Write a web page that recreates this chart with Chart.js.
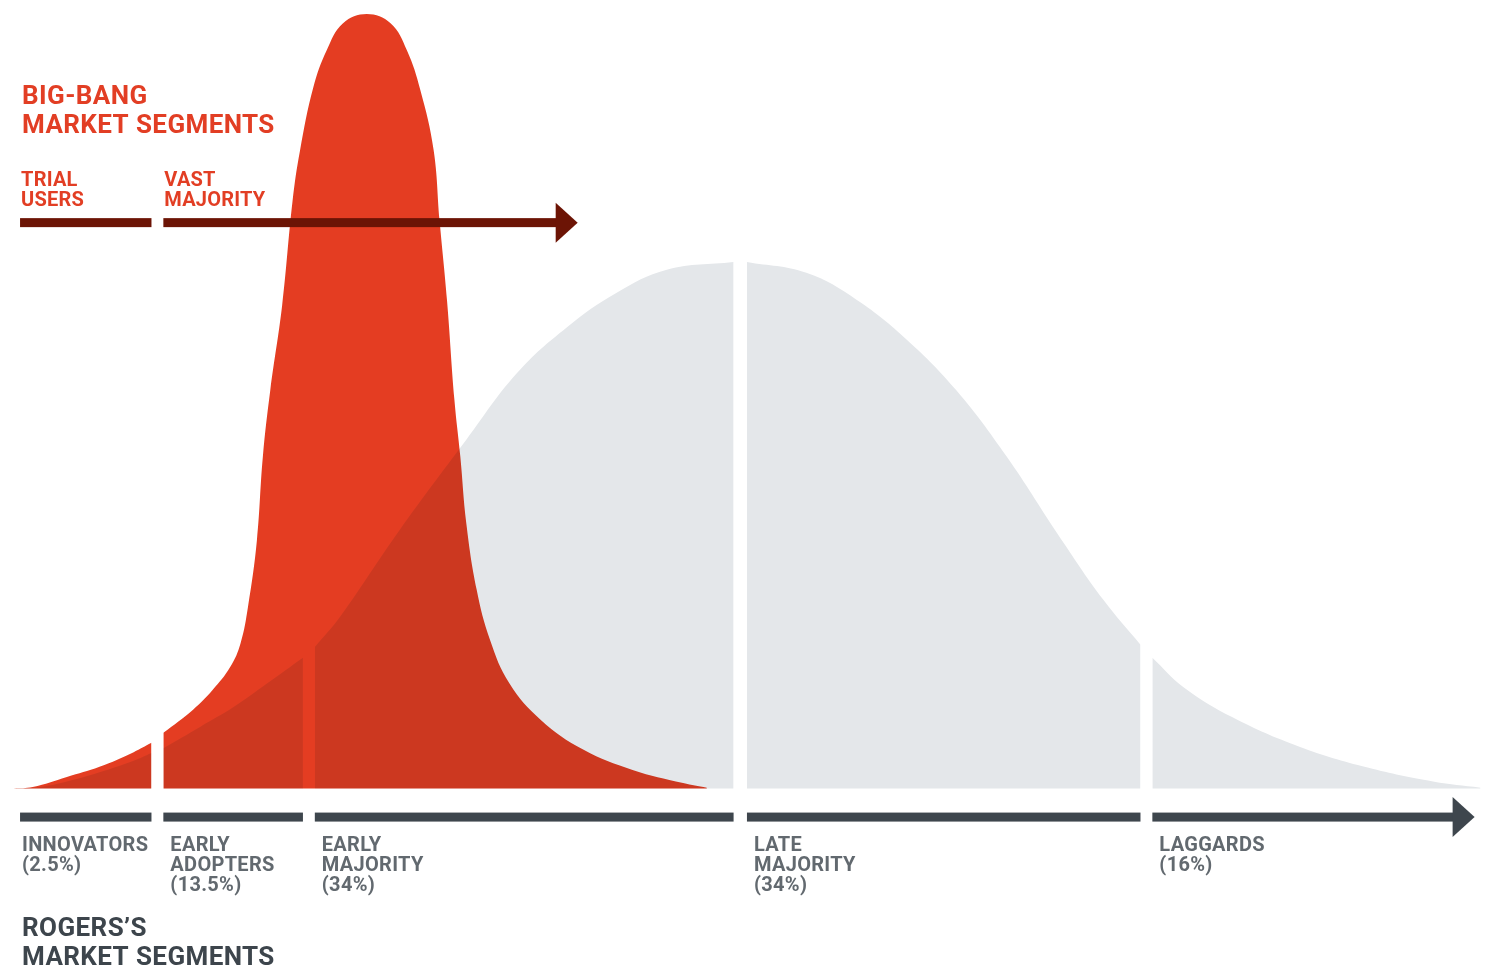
<!DOCTYPE html>
<html>
<head>
<meta charset="utf-8">
<script src="https://cdn.jsdelivr.net/npm/chart.js@4/dist/chart.umd.min.js"></script>
<style>
  html, body { margin: 0; padding: 0; background: #fff; }
  #wrap { width: 1485px; height: 974px; position: relative; }
</style>
</head>
<body>
<div id="wrap"><canvas id="adoptionChart"></canvas></div>
<script>
// Rogers's bell curve (grey), position along the adoption axis vs. share
const rogersPos = [0.9, 2.7, 4.5, 6.7, 9.0, 10.2, 11.0, 13.5, 15.7, 18.0, 20.4, 21.2, 22.9, 26.9, 31.4, 34.8, 38.2, 41.5, 44.9, 49.4, 50.3, 54.3, 57.7, 61.1, 64.4, 67.8, 71.2, 74.3, 76.8, 77.6, 79.7, 83.0, 87.5, 92.1, 96.5, 99.7];
const rogersShare = [0, 0.2, 0.9, 2.1, 3.6, 4.6, 5.2, 8.0, 10.5, 13.6, 16.9, 18.3, 22.2, 33.4, 45.1, 53.7, 59.7, 64.1, 67.1, 68.1, 68.1, 66.7, 63.2, 58.0, 51.5, 42.9, 33.0, 24.4, 18.6, 16.9, 13.1, 9.2, 5.4, 2.7, 0.9, 0.1];

// big-bang curve (red)
const bigBangPos = [0.9, 2.2, 4.5, 6.7, 9.0, 10.2, 11.0, 13.0, 14.3, 15.5, 16.2, 16.7, 17.3, 17.7, 18.2, 19.0, 19.7, 20.2, 21.1, 22.0, 23.1, 24.7, 26.3, 27.4, 28.3, 29.2, 29.6, 30.1, 30.6, 31.0, 31.4, 32.1, 33.0, 34.3, 36.4, 39.3, 42.6, 46.0, 47.6];
const bigBangShare = [0, 0.2, 1.5, 2.8, 4.7, 5.9, 7.2, 10.2, 12.7, 15.7, 18.8, 23.5, 32.1, 42.9, 51.5, 62.5, 76.0, 82.5, 90.7, 95.5, 99.0, 100.2, 99.0, 95.5, 90.4, 82.6, 73.5, 63.2, 50.3, 42.9, 34.3, 25.7, 19.2, 13.6, 8.9, 5.0, 2.4, 0.7, 0.1];

// segment breaks [end of one segment, start of the next]
const rogersBreaks = [[10.2, 11.0], [20.4, 21.2], [49.4, 50.3], [76.8, 77.6]];
const bigBangBreaks = [[10.2, 11.0]];

const rogersNames = [['INNOVATORS'], ['EARLY', 'ADOPTERS'], ['EARLY', 'MAJORITY'], ['LATE', 'MAJORITY'], ['LAGGARDS']];
const rogersPct = ['2.5%', '13.5%', '34%', '34%', '16%'];
const bigBangNames = [['TRIAL', 'USERS'], ['VAST', 'MAJORITY']];

const axisStart = 1.35;
const rogersAxisEnd = 99.3;
const bigBangAxisEnd = 38.9;
const rogersAxisLevel = -3.7;
const bigBangAxisLevel = 73.2;

const RED = '#e43d22';
const GREY = '#e4e7ea';
const DARK_RED = '#6c1405';
const DARK_GREY = '#3e464d';

// split one curve into pieces at the breaks
function pieces(xs, ys, breaks) {
    const out = [];
    let lo = -Infinity;
    for (let i = 0; i <= breaks.length; i++) {
        const hi = i < breaks.length ? breaks[i][0] : Infinity;
        const pts = [];
        xs.forEach((x, k) => { if (x >= lo - 1e-9 && x <= hi + 1e-9) pts.push({x: x, y: ys[k]}); });
        out.push(pts);
        if (i < breaks.length) lo = breaks[i][1];
    }
    return out;
}

function segRanges(breaks, end) {
    const r = [];
    let lo = axisStart;
    breaks.forEach(b => { r.push([lo, b[0]]); lo = b[1]; });
    r.push([lo, end]);
    return r;
}

const datasets = [];
pieces(rogersPos, rogersShare, rogersBreaks).forEach(p => datasets.push({
    data: p, backgroundColor: GREY, fill: 'origin', borderWidth: 0, order: 1,
    tension: 0.4, pointRadius: 0
}));
pieces(bigBangPos, bigBangShare, bigBangBreaks).forEach(p => datasets.push({
    data: p, backgroundColor: RED, fill: 'origin', borderWidth: 0, order: 2,
    tension: 0.4, pointRadius: 0
}));

function arrowBar(ctx, x0, x1, y, color, arrow) {
    ctx.fillStyle = color;
    if (!arrow) {
        ctx.fillRect(x0, y - 4.5, x1 - x0, 9);
        return;
    }
    const base = x1 - 22;
    ctx.fillRect(x0, y - 4.5, base - x0 + 1, 9);
    ctx.beginPath();
    ctx.moveTo(base, y - 20);
    ctx.lineTo(x1, y);
    ctx.lineTo(base, y + 20);
    ctx.closePath();
    ctx.fill();
}

const overlay = {
    id: 'overlay',
    beforeDatasetsDraw(chart) { chart.ctx.globalCompositeOperation = 'multiply'; },
    afterDatasetsDraw(chart) { chart.ctx.globalCompositeOperation = 'source-over'; },
    afterDraw(chart) {
        const ctx = chart.ctx;
        const xs = chart.scales.x, ys = chart.scales.y;
        const px = v => xs.getPixelForValue(v);
        ctx.save();

        // big-bang axis
        const yTop = ys.getPixelForValue(bigBangAxisLevel);
        const topR = segRanges(bigBangBreaks, bigBangAxisEnd);
        topR.forEach((r, i) => arrowBar(ctx, px(r[0]), px(r[1]), yTop, DARK_RED, i === topR.length - 1));

        // rogers axis
        const yBot = ys.getPixelForValue(rogersAxisLevel);
        const botR = segRanges(rogersBreaks, rogersAxisEnd);
        botR.forEach((r, i) => arrowBar(ctx, px(r[0]), px(r[1]), yBot, DARK_GREY, i === botR.length - 1));

        ctx.textBaseline = 'alphabetic';
        ctx.textAlign = 'left';

        // big-bang title + labels
        ctx.fillStyle = '#e23e24';
        ctx.font = '700 26px Roboto';
        ctx.letterSpacing = '0.4px';
        ctx.fillText('BIG-BANG', px(axisStart) + 2, yTop - 119);
        ctx.fillText('MARKET SEGMENTS', px(axisStart) + 2, yTop - 90);
        ctx.font = '700 20px Roboto';
        ctx.letterSpacing = '0.2px';
        topR.forEach((r, i) => {
            bigBangNames[i].forEach((t, j) => ctx.fillText(t, px(r[0]) + 1, yTop - 37 + j * 20));
        });

        // rogers labels + title
        ctx.fillStyle = '#62696f';
        ctx.font = '700 20px Roboto';
        ctx.letterSpacing = '0.3px';
        botR.forEach((r, i) => {
            const lines = rogersNames[i].concat(['(' + rogersPct[i] + ')']);
            lines.forEach((t, j) => ctx.fillText(t, px(r[0]) + (i === 0 ? 2 : 7), yBot + 34 + j * 20));
        });
        ctx.fillStyle = '#3d454c';
        ctx.font = '700 26px Roboto';
        ctx.letterSpacing = '0.4px';
        ctx.fillText('ROGERS\u2019S', px(axisStart) + 2, yBot + 119);
        ctx.fillText('MARKET SEGMENTS', px(axisStart) + 2, yBot + 148);
        ctx.restore();
    }
};

new Chart(document.getElementById('adoptionChart'), {
    type: 'line',
    data: { datasets: datasets },
    options: {
        responsive: true,
        maintainAspectRatio: false,
        animation: false,
        layout: { padding: 0 },
        plugins: { legend: { display: false }, tooltip: { enabled: false } },
        scales: {
            x: { type: 'linear', min: 0, max: 100, display: false },
            y: { type: 'linear', min: -24, max: 102, display: false }
        }
    },
    plugins: [overlay]
});
</script>
</body>
</html>
